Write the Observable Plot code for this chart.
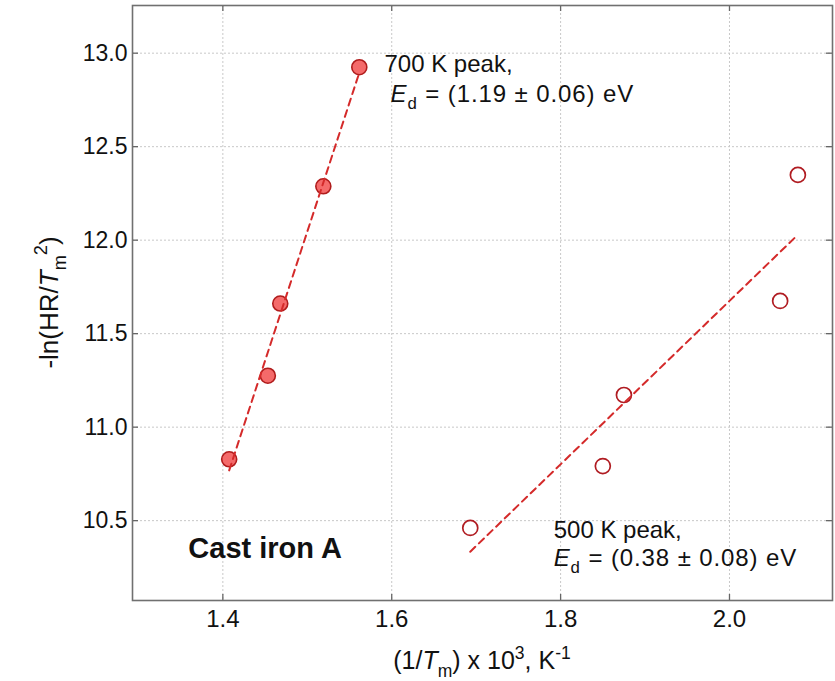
<!DOCTYPE html>
<html><head><meta charset="utf-8">
<script src="https://cdn.jsdelivr.net/npm/d3@7"></script>
<script src="https://cdn.jsdelivr.net/npm/@observablehq/plot@0.6"></script>
<style>
body{margin:0;background:#fff;}
svg{font-family:"Liberation Sans",Arial,sans-serif;}
svg text{white-space:pre;}
</style>
</head><body><div id="chart"></div>
<script>
// 700 K peak (filled markers)
const peak700X = [1.4075, 1.4533, 1.468, 1.519, 1.5616];
const peak700Y = [10.828, 11.275, 11.661, 12.288, 12.925];
// 500 K peak (open markers)
const peak500X = [1.693, 1.850, 1.875, 2.060, 2.081];
const peak500Y = [10.461, 10.792, 11.172, 11.675, 12.349];
const xTicks = [1.4, 1.6, 1.8, 2.0];
const yTicks = [10.5, 11.0, 11.5, 12.0, 12.5, 13.0];
const xDomain = [1.293, 2.122];
const yDomain = [10.073, 13.255];
const annotationX = [1.592, 1.5992, 1.7924, 1.7924, 1.3597];
const annotationY = [12.897, 12.736, 10.406, 10.256, 10.298];
const annotationParts = [
  [{t:"700 K peak,"}],
  [{t:"E", i:true},{t:"d", sub:true},{t:" = (1.19 ± 0.06) eV"}],
  [{t:"500 K peak,"}],
  [{t:"E", i:true},{t:"d", sub:true},{t:" = (0.38 ± 0.08) eV"}],
  [{t:"Cast iron A", b:true}]
];
const xLabelParts = [{t:"(1/"},{t:"T", i:true},{t:"m", sub:true},{t:") x 10"},{t:"3", sup:true},{t:", K"},{t:"-1", sup:true}];
const yLabelParts = [{t:"-ln(HR/"},{t:"T", i:true},{t:"m", sub:true},{t:"2", sup:true},{t:")"}];

const peak700 = peak700X.map((x, i) => ({x, y: peak700Y[i]}));
const peak500 = peak500X.map((x, i) => ({x, y: peak500Y[i]}));

const W = 835, H = 681, mL = 132, mR = 3, mT = 5, mB = 81;
const plotW = W - mL - mR, plotH = H - mT - mB, tick = 6;
const lineColor = "#d42a2a";

const plot = Plot.plot({
  width: W, height: H,
  marginLeft: mL, marginRight: mR, marginTop: mT, marginBottom: mB,
  style: {background: "#fff", fontFamily: "Liberation Sans, Arial, sans-serif"},
  x: {domain: xDomain},
  y: {domain: yDomain},
  marks: [
    Plot.gridX(xTicks, {stroke: "#c8c8c8", strokeOpacity: 1, strokeDasharray: "2,2"}),
    Plot.gridY(yTicks, {stroke: "#c8c8c8", strokeOpacity: 1, strokeDasharray: "2,2"}),
    Plot.ruleX(xTicks, {x: d => d, stroke: "#666", strokeWidth: 1.3, insetTop: plotH - tick}),
    Plot.ruleX(xTicks, {x: d => d, stroke: "#666", strokeWidth: 1.3, insetBottom: plotH - tick}),
    Plot.ruleY(yTicks, {y: d => d, stroke: "#666", strokeWidth: 1.3, insetRight: plotW - tick}),
    Plot.ruleY(yTicks, {y: d => d, stroke: "#666", strokeWidth: 1.3, insetLeft: plotW - tick}),
    Plot.axisX({ticks: xTicks, tickFormat: ".1f", tickSize: 0, tickPadding: 9, fontSize: 24, label: null, color: "#111"}),
    Plot.axisY({ticks: yTicks, tickFormat: ".1f", tickSize: 0, tickPadding: 5, fontSize: 23, label: null, color: "#111"}),
    Plot.dot(peak700, {x: "x", y: "y", r: 7.5, fill: "#f46a6a", stroke: "#b01c1c", strokeWidth: 1.6}),
    Plot.dot(peak500, {x: "x", y: "y", r: 7.5, fill: "none", stroke: "#b01c22", strokeWidth: 1.7}),
    Plot.linearRegressionY(peak700, {x: "x", y: "y", ci: 0, stroke: lineColor, strokeWidth: 2, strokeDasharray: "7,5"}),
    Plot.linearRegressionY(peak500, {x: "x", y: "y", ci: 0, stroke: lineColor, strokeWidth: 2, strokeDasharray: "7,5"}),
    Plot.frame({stroke: "#707070", strokeWidth: 1.6})
  ]
});
document.getElementById("chart").appendChild(plot);

function rich(sel, parts, fs) {
  let cur = 0;
  for (const p of parts) {
    const target = p.sub ? fs * 0.3 : p.sup ? -fs * 0.42 : 0;
    const ts = sel.append("tspan").text(p.t);
    if (target !== cur) ts.attr("dy", target - cur);
    cur = target;
    if (p.sub || p.sup) ts.attr("font-size", fs * 0.7);
    if (p.i) ts.attr("font-style", "italic");
    if (p.b) ts.attr("font-weight", "bold");
    if (p.dx) ts.attr("dx", p.dx);
  }
}

const sx = plot.scale("x"), sy = plot.scale("y");
const svg = d3.select(plot);
annotationParts.forEach((parts, i) => {
  const fs = parts[0].b ? 29 : 24;
  const t = svg.append("text")
    .attr("x", sx.apply(annotationX[i]))
    .attr("y", sy.apply(annotationY[i]))
    .attr("text-anchor", "start")
    .attr("font-size", fs).attr("fill", "#111");
  if (parts.length > 1) t.attr("letter-spacing", 0.9);
  rich(t, parts, fs);
});
const xl = svg.append("text")
  .attr("x", mL + plotW / 2).attr("y", H - 12)
  .attr("text-anchor", "middle").attr("font-size", 25).attr("fill", "#111");
rich(xl, xLabelParts, 25);
const yl = svg.append("text")
  .attr("transform", `translate(58,${mT + plotH / 2}) rotate(-90)`)
  .attr("text-anchor", "middle").attr("font-size", 26).attr("fill", "#111");
rich(yl, yLabelParts, 26);
</script>
</body></html>
